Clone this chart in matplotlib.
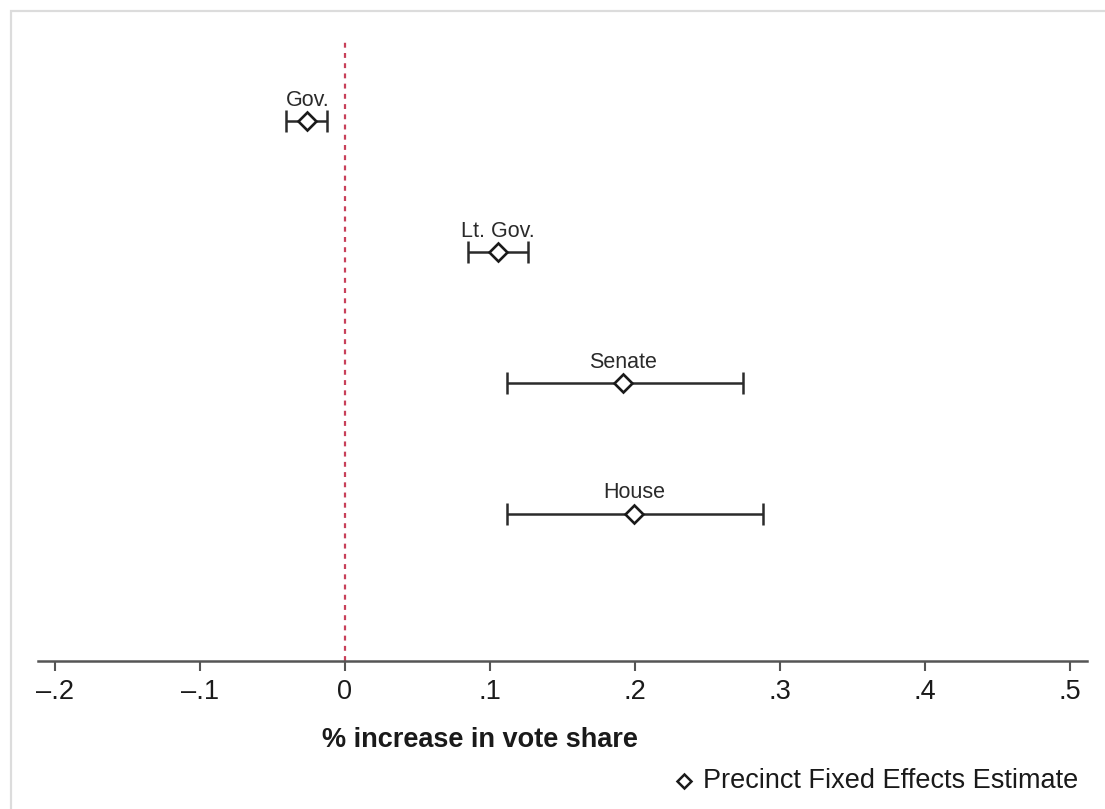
import numpy as np
import matplotlib
matplotlib.use("Agg")
import matplotlib.pyplot as plt
from matplotlib.patches import Rectangle
from matplotlib.lines import Line2D

plt.rcParams['font.family'] = ['Liberation Sans', 'DejaVu Sans']

# Datos
races = ["Gov.", "Lt. Gov.", "Senate", "House"]
estimate = [-0.026, 0.1055, 0.192, 0.1995]
ci_low = [-0.0407, 0.0848, 0.1117, 0.1117]
ci_high = [-0.0124, 0.1262, 0.2745, 0.288]
xticks = [-0.2, -0.1, 0, 0.1, 0.2, 0.3, 0.4, 0.5]
xticklabels = ["\u2013.2", "\u2013.1", "0", ".1", ".2", ".3", ".4", ".5"]

fig = plt.figure(figsize=(11.05, 8.09), dpi=100)
W, H = 1105, 809

# marco gris claro
fig.patches.append(Rectangle((11 / W, -0.1), 1.2, 1.1 - 11 / H,
                             transform=fig.transFigure, fill=False,
                             edgecolor="#dcdcdc", linewidth=1.6))

ax = fig.add_axes([38 / W, 1 - 661 / H, (1087 - 38) / W, (661 - 40) / H])
ax.patch.set_alpha(0)

ypos = np.arange(len(races), 0, -1)  # Gov arriba

ax.axvline(0, color="#c8405a", linestyle=(0, (2.2, 2.4)), linewidth=1.6, zorder=1)

ax.errorbar(estimate, ypos,
            xerr=[np.array(estimate) - np.array(ci_low), np.array(ci_high) - np.array(estimate)],
            fmt="none", ecolor="#2b2b2b", elinewidth=1.8, capsize=8, capthick=1.8, zorder=2)
ax.plot(estimate, ypos, linestyle="none", marker="D", markersize=9,
        markerfacecolor="white", markeredgecolor="#1a1a1a", markeredgewidth=1.9, zorder=3)

for x, y, name in zip(estimate, ypos, races):
    ax.annotate(name, (x, y), xytext=(0, 15), textcoords="offset points",
                ha="center", va="center", fontsize=15.5, color="#2a2a2a")

ax.set_xlim(-0.2117, 0.5117)
ax.set_ylim(1 - 147 / 130.7, 4 + 81 / 130.7)

for s in ["top", "right", "left"]:
    ax.spines[s].set_visible(False)
ax.spines["bottom"].set_color("#555555")
ax.spines["bottom"].set_linewidth(1.8)

ax.set_yticks([])
ax.set_xticks(xticks)
ax.set_xticklabels(xticklabels, fontsize=19.5, color="#1a1a1a")
ax.tick_params(axis="x", direction="out", length=7, width=1.5, color="#555555", pad=6)

fig.text(480 / W, 1 - 740 / H, "% increase in vote share", ha="center", va="center",
         fontsize=19.5, fontweight="bold", color="#1a1a1a")

# leyenda
fig.add_artist(Line2D([684 / W], [1 - 781 / H], marker="D", markersize=7.5,
                      markerfacecolor="white", markeredgecolor="#1a1a1a",
                      markeredgewidth=1.8, linestyle="none", transform=fig.transFigure))
fig.text(703 / W, 1 - 781 / H, "Precinct Fixed Effects Estimate", ha="left", va="center",
         fontsize=19.5, color="#1a1a1a")

fig.savefig("out.png", dpi=100)
